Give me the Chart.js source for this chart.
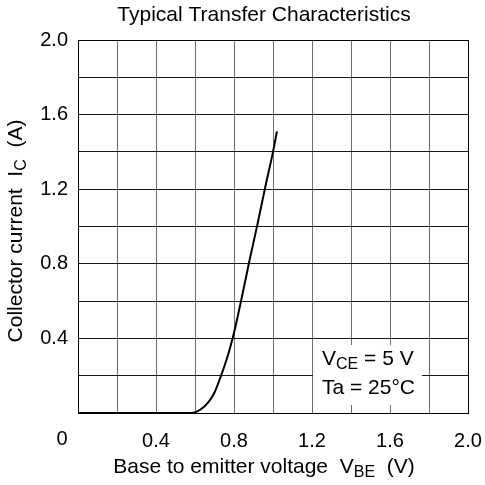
<!DOCTYPE html>
<html>
<head>
    <title>Typical Transfer Characteristics</title>
    <script src="https://cdn.jsdelivr.net/npm/chart.js@4.4.0/dist/chart.umd.min.js"></script>
    <style>
        body { margin: 0; background: #fff; }
        #wrap { width: 485px; height: 485px; }
    </style>
</head>
<body>
    <div id="wrap"><canvas id="transferChart" width="485" height="485"></canvas></div>

    <script>
        // Curve: VBE (V) vs IC (A)
        const vbe = [0, 0.3, 0.58, 0.63, 0.67, 0.70, 0.73, 0.76, 0.78, 0.80, 0.84, 0.88, 0.92, 0.96, 1.00, 1.02];
        const ic  = [0, 0, 0, 0.02, 0.06, 0.11, 0.19, 0.28, 0.35, 0.43, 0.62, 0.82, 1.01, 1.21, 1.40, 1.51];
        const xTicks = [0.4, 0.8, 1.2, 1.6, 2.0];
        const yTicks = [0.4, 0.8, 1.2, 1.6, 2.0];

        const FAMILY = '"Liberation Sans", Arial, sans-serif';
        const FONT = '21px ' + FAMILY;
        const SUB = '16px ' + FAMILY;

        // text with subscript parts, parts = [[text, isSub], ...]
        function partsWidth(ctx, parts) {
            let w = 0;
            parts.forEach(p => { ctx.font = p[1] ? SUB : FONT; w += ctx.measureText(p[0]).width; });
            return w;
        }
        function drawParts(ctx, parts, x, y) {
            parts.forEach(p => {
                ctx.font = p[1] ? SUB : FONT;
                ctx.fillText(p[0], x, p[1] ? y + 6 : y);
                x += ctx.measureText(p[0]).width;
            });
        }

        const labels = {
            id: 'labels',
            afterDraw(chart) {
                const ctx = chart.ctx;
                const a = chart.chartArea;
                ctx.save();
                ctx.fillStyle = '#000';
                ctx.textBaseline = 'middle';

                // title
                ctx.font = FONT;
                ctx.textAlign = 'center';
                ctx.fillText('Typical Transfer Characteristics', 264, 15);
                // origin label
                ctx.font = '20px ' + FAMILY;
                ctx.fillText('0', 62, 439);
                ctx.textAlign = 'left';

                // x axis title
                const xt = [['Base to emitter voltage  V', false], ['BE', true], ['  (V)', false]];
                drawParts(ctx, xt, 264 - partsWidth(ctx, xt) / 2, 467);

                // y axis title
                const yt = [['Collector current  I', false], ['C', true], ['  (A)', false]];
                ctx.save();
                ctx.translate(16, 231);
                ctx.rotate(-Math.PI / 2);
                drawParts(ctx, yt, -partsWidth(ctx, yt) / 2, 0);
                ctx.restore();

                // condition box
                ctx.fillStyle = '#fff';
                ctx.fillRect(313, 345, 109, 60);
                ctx.fillStyle = '#000';
                drawParts(ctx, [['V', false], ['CE', true], [' = 5 V', false]], 322, 359);
                ctx.font = FONT;
                ctx.fillText('Ta = 25\u00B0C', 322, 388);

                // plot border
                ctx.strokeStyle = '#000';
                ctx.lineWidth = 1;
                ctx.strokeRect(a.left + 0.5, a.top + 0.5, a.right - a.left, a.bottom - a.top);
                ctx.restore();
            }
        };

        const ctx = document.getElementById('transferChart').getContext('2d');
        new Chart(ctx, {
            type: 'line',
            data: {
                datasets: [{
                    data: vbe.map((v, i) => ({ x: v, y: ic[i] })),
                    borderColor: '#000',
                    borderWidth: 2,
                    pointRadius: 0,
                    cubicInterpolationMode: 'monotone',
                    fill: false
                }]
            },
            options: {
                responsive: false,
                animation: false,
                layout: { padding: { top: 40, right: 17, left: 0, bottom: 0 } },
                plugins: { legend: { display: false }, tooltip: { enabled: false } },
                scales: {
                    x: {
                        type: 'linear', min: 0, max: 2.0,
                        afterFit: s => { s.height = 72; s.paddingLeft = 0; s.paddingRight = 0; },
                        border: { display: false },
                        grid: { color: '#6e6e6e', drawTicks: false, lineWidth: 1 },
                        ticks: {
                            stepSize: 0.2, padding: 16, color: '#000', maxRotation: 0, autoSkip: false,
                            font: { family: FAMILY, size: 20 },
                            callback: v => xTicks.some(t => Math.abs(t - v) < 1e-6) ? v.toFixed(1) : ''
                        }
                    },
                    y: {
                        type: 'linear', min: 0, max: 2.0,
                        afterFit: s => { s.width = 78; s.paddingTop = 0; s.paddingBottom = 0; },
                        border: { display: false },
                        grid: { color: '#1a1a1a', drawTicks: false, lineWidth: 1 },
                        ticks: {
                            stepSize: 0.2, padding: 10, color: '#000', autoSkip: false,
                            font: { family: FAMILY, size: 20 },
                            callback: v => yTicks.some(t => Math.abs(t - v) < 1e-6) ? v.toFixed(1) : ''
                        }
                    }
                }
            },
            plugins: [labels]
        });
    </script>
</body>
</html>
